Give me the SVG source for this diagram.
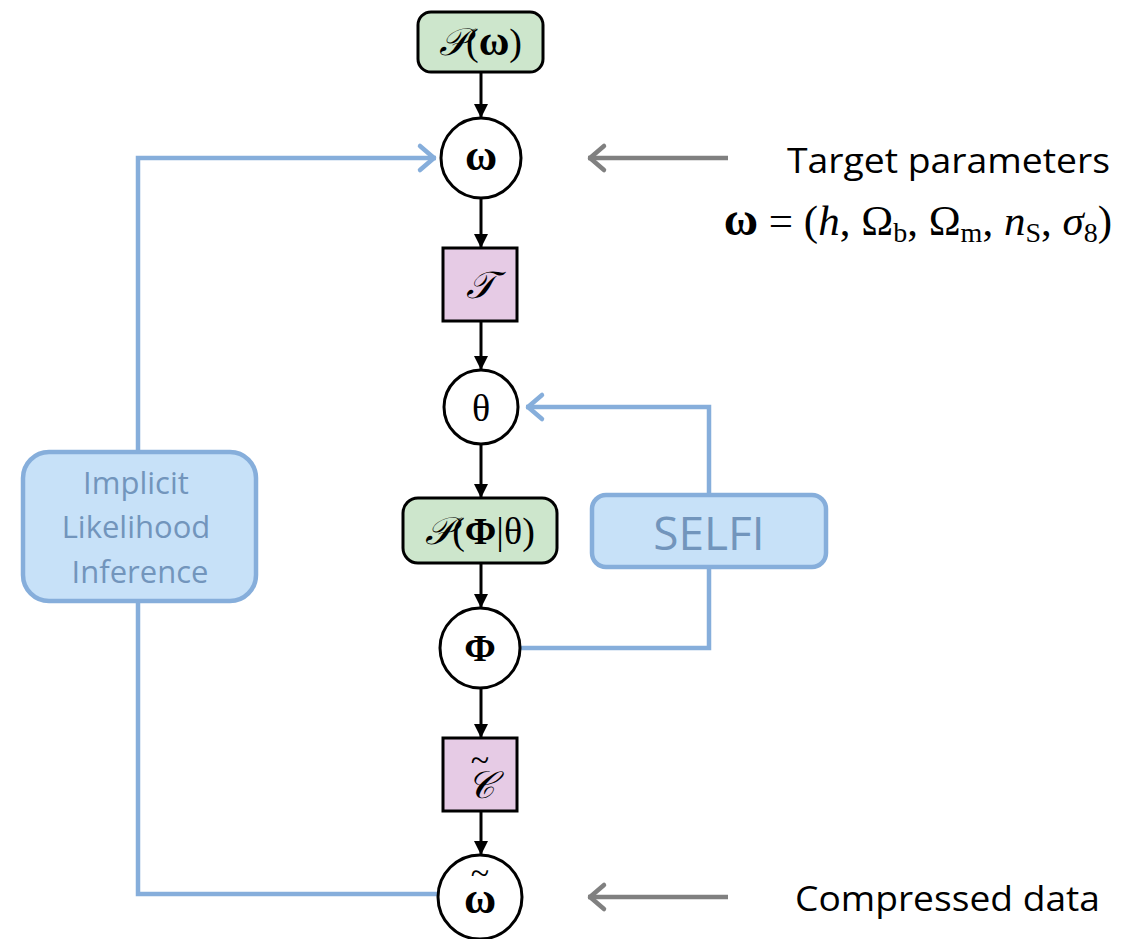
<svg xmlns="http://www.w3.org/2000/svg" width="1140" height="939" viewBox="0 0 1140 939">
  <style>
    .flow { stroke: #000; stroke-width: 3; fill: none; }
    .node { stroke: #000; stroke-width: 3; }
    .circ { fill: #fff; }
    .dist { fill: #CDE6CC; }
    .map { fill: #E6CBE5; }
    .blue { stroke: #86AEDB; stroke-width: 4.5; fill: none; }
    .grey { stroke: #808080; stroke-width: 4.5; fill: none; }
    .bbox { fill: #C7E1F8; stroke: #86AEDB; stroke-width: 4.5; }
    .math { font-family: "Liberation Serif", "DejaVu Serif", serif; fill: #000; }
    .label { font-family: "Open Sans", "Noto Sans", sans-serif; fill: #000; }
    .blabel { font-family: "Open Sans", "Noto Sans", sans-serif; fill: #7295BC; }
  </style>
  <defs>
    <marker id="head" markerUnits="userSpaceOnUse" markerWidth="20" markerHeight="20" refX="14" refY="7" orient="auto">
      <path d="M0,0 L14,7 L0,14 Z" fill="#000"/>
    </marker>
    <marker id="blueHead" markerUnits="userSpaceOnUse" markerWidth="30" markerHeight="32" refX="24" refY="16" orient="auto">
      <path d="M8,4 L22,16 L8,28" fill="none" stroke="#86AEDB" stroke-width="4.5" stroke-linecap="round" stroke-linejoin="round"/>
    </marker>
    <marker id="greyHead" markerUnits="userSpaceOnUse" markerWidth="30" markerHeight="32" refX="24" refY="16" orient="auto">
      <path d="M8,4 L22,16 L8,28" fill="none" stroke="#808080" stroke-width="4.5" stroke-linecap="round" stroke-linejoin="round"/>
    </marker>
  </defs>

  <!-- connectors -->
  <g id="connectors">
    <path class="flow" d="M481,72 V118" marker-end="url(#head)"/>
    <path class="flow" d="M481,198 V248" marker-end="url(#head)"/>
    <path class="flow" d="M481,321 V370" marker-end="url(#head)"/>
    <path class="flow" d="M481,444 V498" marker-end="url(#head)"/>
    <path class="flow" d="M481,563 V608" marker-end="url(#head)"/>
    <path class="flow" d="M481,688 V738" marker-end="url(#head)"/>
    <path class="flow" d="M481,811 V855" marker-end="url(#head)"/>
    <!-- inference loops -->
    <path class="blue" d="M439,894 H138 V158 H436" marker-end="url(#blueHead)"/>
    <path class="blue" d="M520,648 H709 V407 H526" marker-end="url(#blueHead)"/>
    <!-- annotation pointers -->
    <path class="grey" d="M728,158 H588" marker-end="url(#greyHead)"/>
    <path class="grey" d="M728,897 H588" marker-end="url(#greyHead)"/>
  </g>

  <g id="prior">
    <rect class="node dist" x="418" y="12" width="125" height="60" rx="13"/>
    <text class="math" x="480.5" y="55" font-size="38" text-anchor="middle"><tspan font-style="italic">𝒫</tspan>(<tspan font-weight="bold" font-size="42">ω</tspan>)</text>
  </g>

  <g id="omega">
    <circle class="node circ" cx="481" cy="158" r="40"/>
    <text class="math" x="481" y="170" font-size="44" font-weight="bold" text-anchor="middle">ω</text>
  </g>

  <g id="transform">
    <rect class="node map" x="443" y="248" width="74" height="73"/>
    <text class="math" x="480" y="298" font-size="38" font-style="italic" text-anchor="middle">𝒯</text>
  </g>

  <g id="theta">
    <circle class="node circ" cx="481" cy="407" r="37"/>
    <text class="math" x="481" y="421" font-size="38" text-anchor="middle">θ</text>
  </g>

  <g id="likelihood">
    <rect class="node dist" x="403" y="498" width="154" height="65" rx="15"/>
    <text class="math" x="480" y="544" font-size="38" text-anchor="middle"><tspan font-style="italic">𝒫</tspan>(<tspan font-weight="bold">Φ</tspan>|θ)</text>
  </g>

  <g id="phi">
    <circle class="node circ" cx="480" cy="648" r="40"/>
    <text class="math" x="480" y="661" font-size="38" font-weight="bold" text-anchor="middle">Φ</text>
  </g>

  <!-- compression operator with a wide tilde accent above -->
  <g id="compression">
    <rect class="node map" x="443" y="738" width="74" height="73"/>
    <text class="math" text-anchor="middle"><tspan x="481" y="798" font-size="38" font-style="italic">𝒞</tspan><tspan x="480" y="771" font-size="34">~</tspan></text>
  </g>

  <g id="omega-tilde">
    <circle class="node circ" cx="480" cy="897" r="42"/>
    <text class="math" text-anchor="middle"><tspan x="480" y="913" font-size="44" font-weight="bold">ω</tspan><tspan x="480" y="884" font-size="34">~</tspan></text>
  </g>

  <g id="ili">
    <rect class="bbox" x="23" y="452" width="233" height="149" rx="26"/>
    <text class="blabel" font-size="31" text-anchor="middle">
      <tspan x="140" y="494">Implicit</tspan>
      <tspan x="140" y="538">Likelihood</tspan>
      <tspan x="140" y="583">Inference</tspan>
    </text>
  </g>

  <g id="selfi">
    <rect class="bbox" x="592" y="495" width="234" height="72" rx="14"/>
    <text class="blabel" x="709" y="550" font-size="46" text-anchor="middle">SELFI</text>
  </g>

  <g id="annotations">
    <text class="label" x="1110" y="173" font-size="34" text-anchor="end" textLength="323" lengthAdjust="spacingAndGlyphs">Target parameters</text>
    <text class="math" x="1112" y="235" font-size="43" text-anchor="end"><tspan font-weight="bold" font-size="47">ω</tspan> = (<tspan font-style="italic">h</tspan>, Ω<tspan font-size="28" dy="7">b</tspan><tspan dy="-7">, Ω</tspan><tspan font-size="28" dy="7">m</tspan><tspan dy="-7">, </tspan><tspan font-style="italic">n</tspan><tspan font-size="28" dy="7">S</tspan><tspan dy="-7">, </tspan><tspan font-style="italic">σ</tspan><tspan font-size="28" dy="7">8</tspan><tspan dy="-7">)</tspan></text>
    <text class="label" x="1100" y="911" font-size="34" text-anchor="end" textLength="305" lengthAdjust="spacingAndGlyphs">Compressed data</text>
  </g>
</svg>
